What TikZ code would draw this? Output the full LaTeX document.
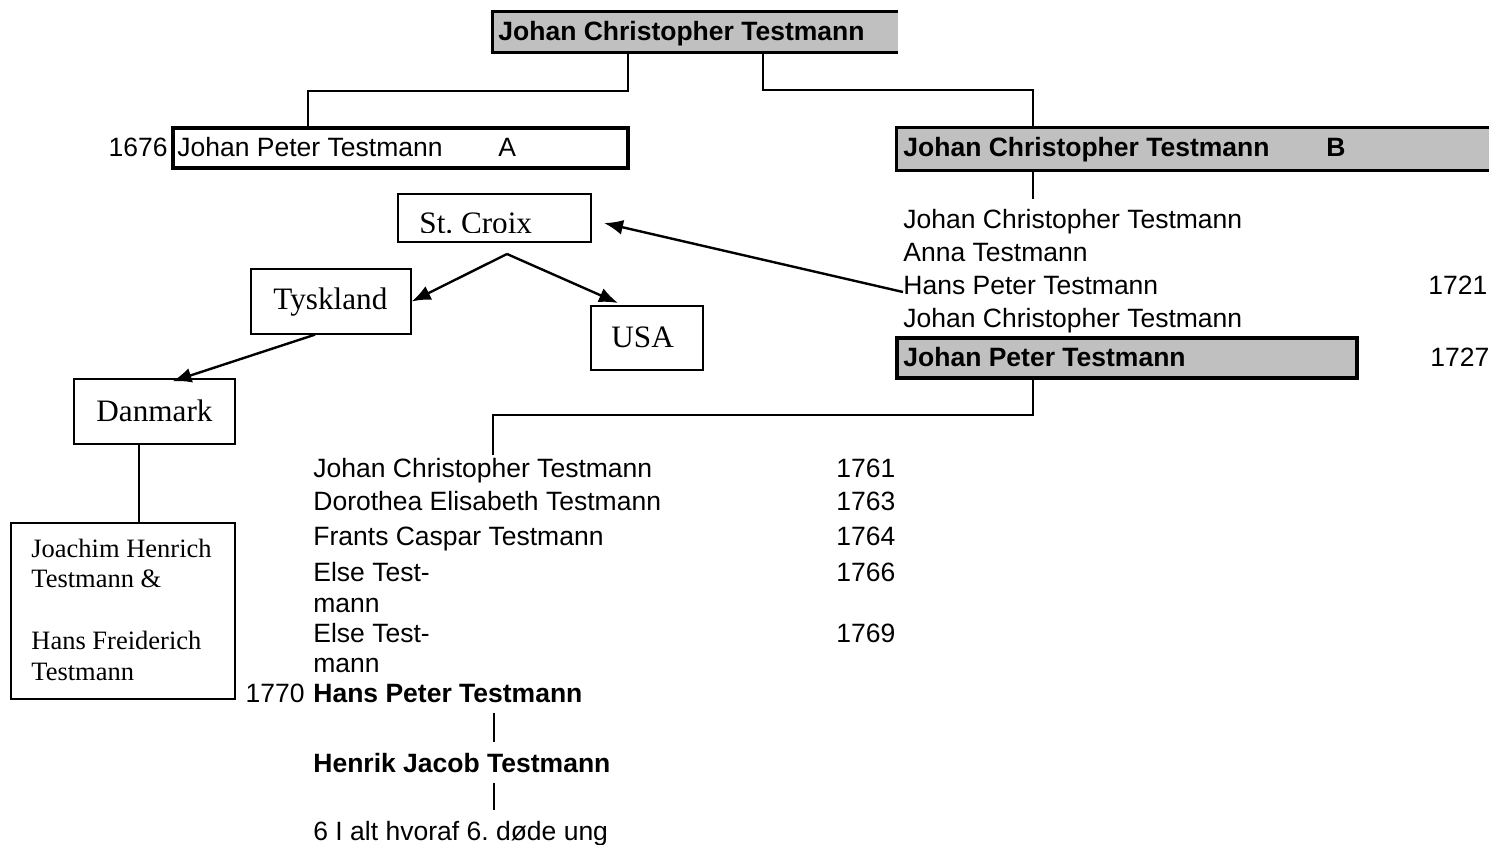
\documentclass[tikz,border=0pt]{standalone}
\usepackage{fontspec}
\setmainfont{Liberation Sans}
\newfontfamily\timesfont{Liberation Serif}
\usetikzlibrary{arrows.meta,fit}
\definecolor{cellgray}{RGB}{192,192,192}
\frenchspacing

\begin{document}
\begin{tikzpicture}[x=0.5pt,y=-0.5pt,
        txt/.style={anchor=base west,inner xsep=0pt,inner ysep=5pt,font=\fontsize{13.25}{15}\selectfont},
        bold/.style={txt,font=\fontsize{13.25}{15}\selectfont\bfseries},
        cell/.style={inner sep=0pt},
        frame/.style={line width=1.8pt},
        link/.style={line width=1.3pt},
        thinlink/.style={line width=0.8pt},
        land/.style={draw,line width=0.65pt,inner sep=0pt},
        landtxt/.style={anchor=base west,inner sep=0pt,font=\timesfont\fontsize{15.6}{18}\selectfont},
        nametxt/.style={anchor=base west,inner sep=0pt,font=\timesfont\fontsize{13.25}{15}\selectfont},
        pil/.style={line width=1.2pt,-{Latex[length=9.5pt,width=7.5pt]}}]
        \useasboundingbox (0,0) rectangle (1489,845);

        % stamfader
        \node[cell,fill=cellgray,fit={(493,12) (898,52)}] (top) {};
        \draw[frame] (top.north east) -- (top.north west) -- (top.south west) -- (top.south east);
        \node[bold] (jct) at (498,41) {Johan Christopher Testmann};

        % linje A
        \node[cell,draw,frame,fit={(173,128) (628,168)}] (boxA) {};
        \node[txt] (jpA) at (177,157) {Johan Peter Testmann};
        \node[txt] (lblA) at (498,157) {A};
        \node[txt,anchor=base east] (yA) at (168,157) {1676};

        % linje B
        \node[cell,fill=cellgray,fit={(897,128) (1500,170)}] (boxB) {};
        \draw[frame] (boxB.north east) -- (boxB.north west) -- (boxB.south west) -- (boxB.south east);
        \node[bold] (jcB) at (903,157) {Johan Christopher Testmann};
        \node[bold] (lblB) at (1326,157) {B};

        \draw[link] (628,0 |- top.south) |- (308,91) -- (308,0 |- boxA.north);
        \draw[link] (763,0 |- top.south) |- (1033,90) -- (1033,0 |- boxB.north);

        % boern af B
        \node[txt] (r1) at (903,229) {Johan Christopher Testmann};
        \node[txt] (r2) at (903,262) {Anna Testmann};
        \node[txt] (r3) at (903,295) {Hans Peter Testmann};
        \node[txt] (r4) at (903,328) {Johan Christopher Testmann};
        \node[txt] (y3) at (1428,295) {1721};
        \draw[thinlink] (1033,0 |- boxB.south) -- (1033,0 |- r1.north);

        \node[cell,draw,frame,fill=cellgray,fit={(897,338) (1357,378)}] (boxP) {};
        \node[bold] (jpP) at (903,366) {Johan Peter Testmann};
        \node[txt] (yP) at (1430,366) {1727};

        % boern af Johan Peter
        \node[txt] (c1) at (313,477) {Johan Christopher Testmann};
        \node[txt] (c2) at (313,510) {Dorothea Elisabeth Testmann};
        \node[txt] (c3) at (313,545) {Frants Caspar Testmann};
        \node[txt] (c4) at (313,581) {Else Test-};
        \node[txt] (c4b) at (313,612) {mann};
        \node[txt] (c5) at (313,642) {Else Test-};
        \node[txt] (c5b) at (313,672) {mann};
        \node[txt] (y1) at (836,477) {1761};
        \node[txt] (y2) at (836,510) {1763};
        \node[txt] (y4) at (836,545) {1764};
        \node[txt] (y5) at (836,581) {1766};
        \node[txt] (y6) at (836,642) {1769};
        \node[bold] (hpt) at (313,702) {Hans Peter Testmann};
        \node[txt,anchor=base east] (y7) at (305,702) {1770};
        \node[bold] (hjt) at (313,772) {Henrik Jacob Testmann};
        \node[txt] (six) at (313,840) {6 I alt hvoraf 6. døde ung};

        \draw[link] (1033,0 |- boxP.south) |- (493,415) -- ([yshift=-4pt]493,0 |- c1.north);
        \draw[thinlink] (494,0 |- hpt.south) -- (494,0 |- hjt.north);
        \draw[thinlink] (494,0 |- hjt.south) -- (494,0 |- six.north);

        % lande
        \node[land,fit={(398,194) (591,242)}] (croix) {};
        \begin{scope}
            \clip (398,194) rectangle (591,233);
            \node[landtxt] (croixtxt) at (419,234) {St. Croix};
        \end{scope}
        \node[land,fit={(251,269) (411,334)}] (tysk) {};
        \node[landtxt] (tysktxt) at (273,310) {Tyskland};
        \node[land,fit={(591,306) (703,370)}] (usa) {};
        \node[landtxt] (usatxt) at (611,348) {USA};
        \node[land,fit={(74,379) (235,444)}] (dan) {};
        \node[landtxt] (dantxt) at (96,422) {Danmark};
        \node[land,fit={(11,523) (235,699)}] (names) {};
        \node[nametxt] (n1) at (31,557) {Joachim Henrich};
        \node[nametxt] (n2) at (31,587) {Testmann \&};
        \node[nametxt] (n3) at (31,649) {Hans Freiderich};
        \node[nametxt] (n4) at (31,680) {Testmann};

        \coordinate (split) at (507,254);
        \coordinate (usatip) at (618,303);
        \coordinate (croixtip) at (604,223);
        \draw[pil] ([yshift=-3pt]r3.west) -- (croixtip);
        \draw[pil] (split) -- (tysk.east);
        \draw[pil] (split) -- (usatip);
        \draw[pil] ([xshift=-8pt]tysk.south) -- ([xshift=9pt,yshift=-1.5pt]dan.north);
        \draw[thinlink] (139,0 |- dan.south) -- (139,0 |- names.north);
    \end{tikzpicture}
\end{document}
